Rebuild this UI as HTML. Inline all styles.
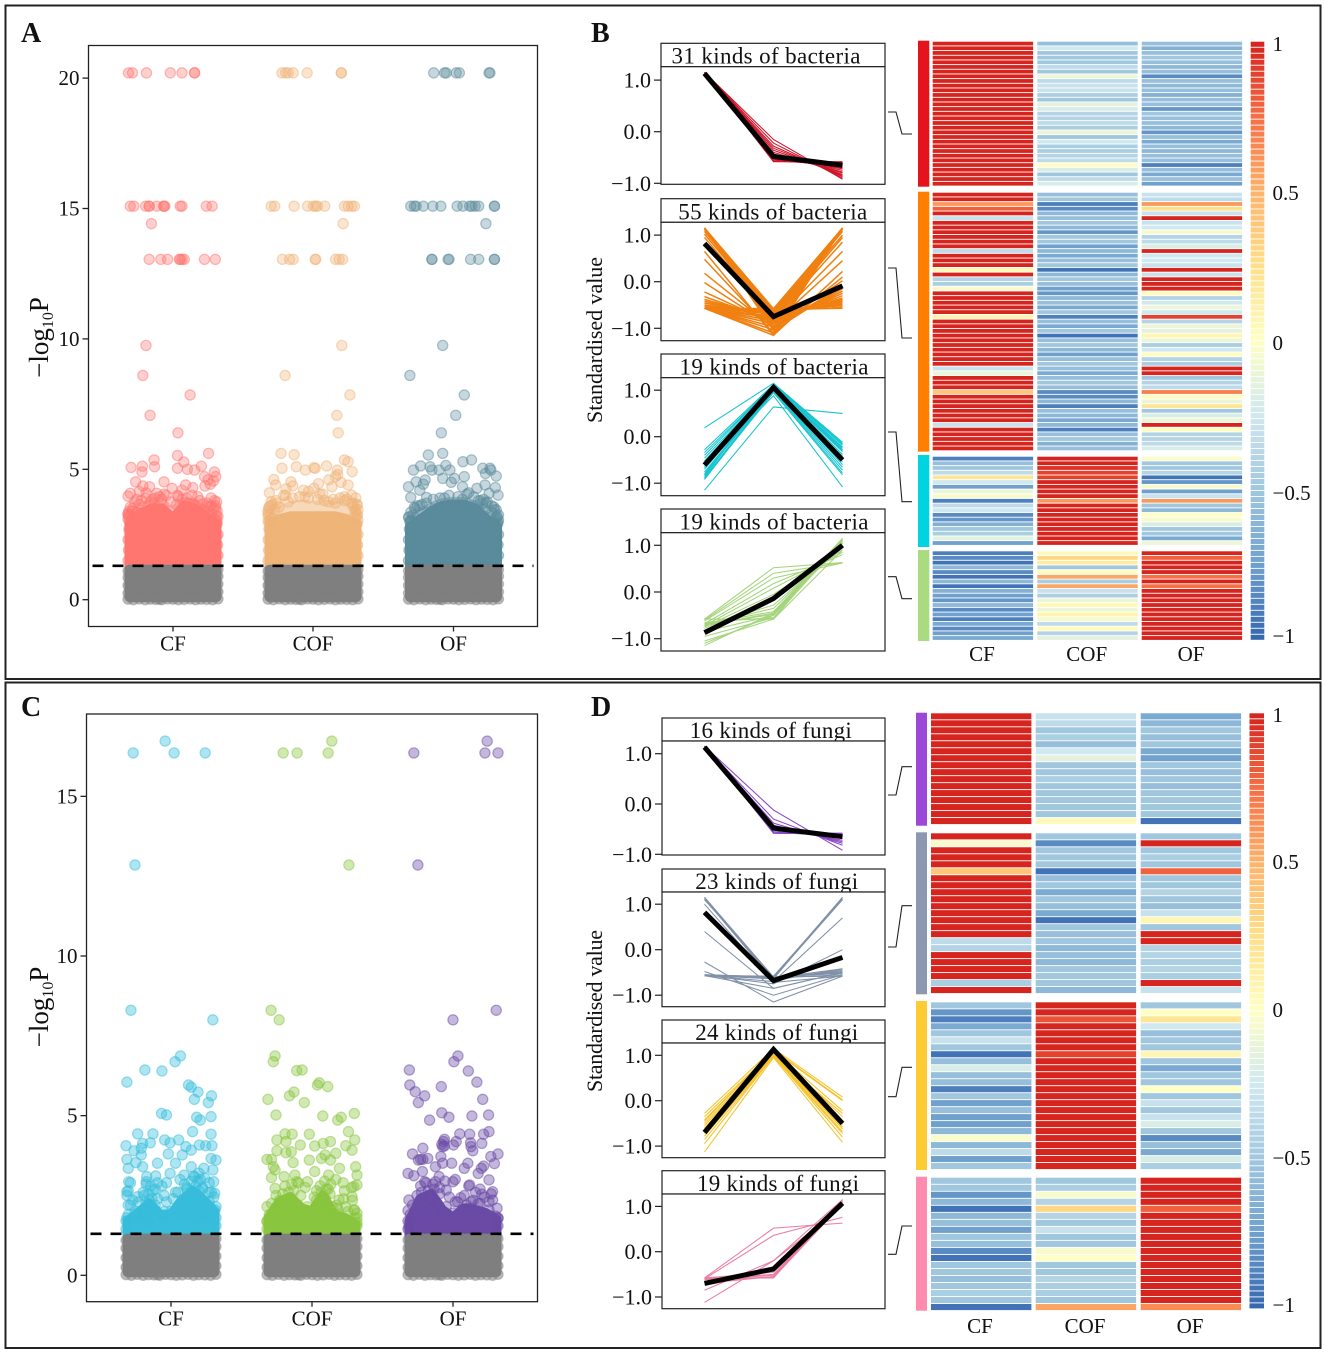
<!DOCTYPE html>
<html lang="en">
<head>
<meta charset="utf-8">
<title>Differential abundance and clustering of bacteria and fungi</title>
<style>
html,body{margin:0;padding:0;background:#fff;}
svg{display:block;font-family:"Liberation Serif",serif;fill:#111;}
</style>
</head>
<body>
<svg id="figure" xmlns="http://www.w3.org/2000/svg" width="1325" height="1354" viewBox="0 0 1325 1354">
  <rect x="0" y="0" width="1325" height="1354" fill="#fff"/>
  <rect x="5.5" y="5.5" width="1315" height="673.5" fill="none" stroke="#222" stroke-width="2"/>
  <rect x="5.5" y="682.5" width="1315" height="665.5" fill="none" stroke="#222" stroke-width="2"/>
  <text x="21" y="42" font-size="28" font-weight="bold">A</text>
  <text x="591" y="42" font-size="28" font-weight="bold">B</text>
  <text x="21" y="716" font-size="28" font-weight="bold">C</text>
  <text x="591" y="716" font-size="28" font-weight="bold">D</text>
  <text transform="translate(48,337.5) rotate(-90)" text-anchor="middle" font-size="27">−log<tspan font-size="16" dy="5">10</tspan><tspan dy="-5">P</tspan></text>
  <text transform="translate(48,1007) rotate(-90)" text-anchor="middle" font-size="27">−log<tspan font-size="16" dy="5">10</tspan><tspan dy="-5">P</tspan></text>
  <text transform="translate(602,340) rotate(-90)" text-anchor="middle" font-size="22" textLength="166">Standardised value</text>
  <text transform="translate(602,1011) rotate(-90)" text-anchor="middle" font-size="22" textLength="162">Standardised value</text>
</svg>
<script>
/* ---------- shared labels ---------- */
const categories = ['CF','COF','OF'];
const scatterTicksA = [0,5,10,15,20];
const scatterTicksC = [0,5,10,15];
const lineTicks = [1,0,-1];
const lineTickLabels = ['1.0','0.0','−1.0'];
const legendTicks = [1,0.5,0,-0.5,-1];
const legendTickLabels = ['1','0.5','0','−0.5','−1'];
const significanceThreshold = 1.3;

/* ---------- panel A points: −log10P value and horizontal jitter (−1…1) ---------- */
const aCfValues = [20.2,20.2,20.2,20.2,20.2,20.2,20.2,15.09,15.09,15.09,15.09,15.09,15.09,15.09,15.09,15.09,15.09,15.09,15.09,15.09,14.42,13.05,13.05,13.05,13.05,13.05,13.05,13.05,13.05,13.05,9.75,8.6,7.85,7.07,6.4,5.61,5.53,5.36,5.28,5.1,5.12,5.07,4.9,5.04,5.12,5.0,4.97,4.9,4.72,4.52,4.52,4.36,4.33,4.43,4.36,4.4,4.3,4.27,4.2,4.08,3.97,4.08,3.8,3.67,3.28,4.72,4.6,4.55,4.15,4.1,4.0,3.95,3.9,3.75,3.6,3.5,3.4,3.85,4.05];
const aCfJitter = [-.99,-.9,-.59,-.06,.2,.48,.48,-.95,-.87,-.61,-.53,-.53,-.36,-.21,-.2,-.18,.16,.2,.74,.87,-.48,-.53,-.27,-.12,.14,.16,.2,.25,.7,.94,-.6,-.67,.38,-.51,.11,.79,.1,-.42,.24,-.41,-.68,-.93,-.69,.1,.63,.32,.48,.92,.95,-.83,-.2,-.67,-.52,.83,.71,.28,.44,-.02,.2,-.95,-1,-.36,.92,.66,-1,.7,.78,.9,-.75,-.6,.1,.55,.85,.97,.75,.95,-.9,-.8,-.2];
const aCfFillValues = [3.9,3.85,3.95,4.0,3.8,3.75,3.9,3.7,3.85,3.95,3.7,3.6,3.85,3.75,3.65,3.55,3.5,3.4,3.35,3.3,3.25,3.2,3.15,3.1,3.6,3.5,3.4,3.3,3.2,3.1,3.0,3.45,3.55,3.7,3.8,3.6,3.9,4.0,3.75,3.65];
const aCfFillJitter = [-.6,-.45,-.3,-.15,-.7,-.85,.3,.35,.2,.12,.45,.5,-.25,-.5,-.75,-.95,-.9,-.98,-.8,-1,-.95,-.99,-.9,-1,.95,.9,.98,.85,1,.95,.98,.7,.8,.75,.6,.85,-.4,.42,-.05,.08];
const aCofValues = [20.2,20.2,20.2,20.2,20.2,20.2,20.2,15.09,15.09,15.09,15.09,15.09,15.09,15.09,15.09,15.09,15.09,15.09,15.09,14.42,13.05,13.05,13.05,13.05,13.05,13.05,13.05,13.05,9.75,8.6,7.85,7.07,6.4,5.61,5.56,5.36,5.29,5.04,5.1,5.06,5.13,4.97,4.97,4.91,4.61,4.4,4.52,4.36,4.72,4.4,4.33,4.1,4.2,4.27,4.01,4.0,3.63,3.76,5.04,4.8,4.6,4.5,4.25,4.15,4.05,3.95,3.9,3.8,3.7,3.55,3.45,3.3,4.45];
const aCofJitter = [-.69,-.61,-.55,-.44,-.13,.63,.63,-.93,-.85,-.42,-.12,.01,.06,.1,.26,.7,.78,.86,.92,.67,-.68,-.52,-.44,.05,.06,.5,.58,.66,.64,-.62,.82,.53,.56,-.71,-.42,.7,.78,-.69,-.37,.02,.3,-.17,.54,.87,-.87,-.83,-.49,-.45,.5,.78,.42,-.97,-.21,.02,.86,-.61,.98,-.93,.05,.55,.35,.62,-.6,-.1,.22,.7,.95,-.82,.9,-.98,.95,-1,.12];
const aCofFillValues = [4.0,3.95,3.9,3.85,3.8,3.85,3.9,3.75,3.7,3.65,3.8,3.7,3.6,3.55,3.5,3.45,3.4,3.3,3.2,3.1,3.0,3.65,3.55,3.45,3.35,3.25,3.15,3.05,3.9,3.75,4.05,3.95,3.85,3.7];
const aCofFillJitter = [-.65,-.3,-.1,.1,.25,.45,.6,-.55,-.8,-.9,.7,.85,-.95,-.75,-.98,-.85,-1,-.95,-.99,-.9,-1,.98,.9,1,.95,.99,.9,1,-.45,.35,.15,-.18,.75,.5];
const aOfValues = [20.2,20.2,20.2,20.2,20.2,20.2,20.2,15.09,15.09,15.09,15.09,15.09,15.09,15.09,15.09,15.09,15.09,15.09,15.09,15.09,15.09,14.42,13.05,13.05,13.05,13.05,13.05,13.05,13.05,13.05,9.75,8.6,7.85,7.07,6.4,5.55,5.61,5.29,5.36,5.13,5.1,5.15,4.97,5.04,5.04,4.97,4.97,4.97,4.97,4.74,4.84,4.52,4.59,4.43,4.33,4.2,4.65,4.65,4.72,4.33,4.27,4.3,4.08,4.01,3.92,3.92,3.85,3.44,2.99,3.18,3.54,4.5,4.1,4.4,3.7,3.6];
const aOfJitter = [-.44,-.2,-.16,.06,.13,.79,.81,-.95,-.87,-.83,-.67,-.46,-.28,.08,.21,.36,.41,.48,.56,.91,.91,.72,-.48,-.48,-.12,-.1,.38,.56,.91,.91,-.24,-.97,.24,.05,-.27,-.56,-.24,.21,.4,-.73,-.52,-.17,-.89,.65,.81,-.48,-.32,-.08,.83,.95,.71,-.83,-.63,-.67,-1,-.75,-.24,.02,.24,.2,.52,.93,.79,.99,-.95,-.6,.67,.91,.99,-.99,-.87,-.05,.34,.7,.72,-.8];
const aOfFillValues = [4.0,3.95,4.05,3.9,3.95,3.85,3.8,3.7,3.6,3.5,3.45,3.35,3.25,3.15,3.05,3.75,3.6,3.55,3.45,3.35,3.25,3.15,3.05,3.9,3.85,3.65,3.7,3.8];
const aOfFillJitter = [-.1,.1,.3,-.3,.45,-.45,.55,-.6,-.75,-.85,.7,-.95,-.9,-1,-.95,.75,.85,.9,.95,.85,1,.95,1,-.2,.2,-.7,.65,.6];

/* ---------- dense cloud outline (panel A) ---------- */
const cloudJitter = [-1,-.75,-.5,-.25,0,.25,.5,.75,1];
const aCfSoftTop = [3.0,3.5,3.7,3.7,3.3,3.75,3.65,3.35,3.0];
const aCfSolidTop = [2.9,3.3,3.5,3.5,3.1,3.6,3.5,3.2,2.9];
const aCofSoftTop = [3.1,3.4,3.6,3.65,3.6,3.65,3.6,3.5,3.2];
const aCofSolidTop = [2.9,3.1,3.2,3.2,3.2,3.2,3.2,3.1,2.9];
const aOfSoftTop = [3.0,3.3,3.55,3.7,3.75,3.75,3.6,3.2,2.95];
const aOfSolidTop = [2.8,3.1,3.4,3.6,3.65,3.65,3.5,3.1,2.8];
/* points along the left and right cloud edges */
const aEdgeValues = [1.5,1.9,2.3,2.7,3.0,1.7,2.1,2.5,2.9,3.2];
const aEdgeJitter = [-1,-.99,-1,-.98,-.97,1,.99,1,.98,.97];

/* ---------- panel C points ---------- */
const cCfValues = [16.36,16.73,16.36,16.36,12.85,8.3,8.0,6.87,6.69,6.43,6.4,6.05,5.96,5.89,5.74,5.62,5.51,5.41,5.07,5.02,4.97,4.95,4.86,4.5,4.43,4.43,4.42,4.06,4.13,4.15,4.24,4.15,4.24,3.98,4.03,4.08,4.06,4.06,3.9,3.77,3.63,3.53,3.8,3.77,3.92,3.66,3.61,3.35,3.4,3.51,3.51,3.4,3.3,3.35,3.09,3.11,3.19,3.14,3.09,2.93,2.93,2.93,2.62,2.57,2.46,2.41,2.9,2.85,2.8,2.75,2.7,2.65,2.6,2.55,2.5,2.45,2.4,2.35,2.3,2.25,2.2,2.15,2.1,2.05,2.0,1.95,1.9,1.85,1.8,1.75,1.7,3.0,2.95,2.9,2.7,2.6];
const cCfJitter = [-.84,-.13,.07,.76,-.8,-.89,.93,.21,.09,-.58,-.2,-.98,.39,.45,.6,.9,.52,.83,-.21,-.1,.89,.57,.65,.48,-.74,-.4,.89,-1,-.63,-.46,-.14,-.02,.17,-.66,.33,.63,.77,.91,-.82,-.66,-.98,-.78,-.06,.25,.45,.89,1,-.95,-.63,-.3,.1,.45,.93,.73,-.54,-.34,-.02,.29,.53,-.94,-.55,.95,-.98,.97,-.74,-.42,-.9,-.55,-.2,.35,.7,-.95,.1,.55,-.6,.95,-.3,-.85,.25,.75,-.95,-.45,.45,.98,-.15,-.75,.3,.85,-.98,.6,-.5,.2,.6,-.1,-.35,.85];
const cCfFillValues = [1.9,2.0,1.8,2.05,1.85,2.0,1.9,2.1,1.95,2.05,1.85,2.2,2.3,2.25,2.35,2.2,2.3,2.4,2.25,2.35,2.2,2.3,2.15,2.5,2.6,2.55,2.65,2.5,2.6,2.7,2.55,2.65,2.75,2.6,2.8,2.9,2.85,2.95,2.8,3.0,3.05,2.9,3.1,3.2];
const cCfFillJitter = [-.95,-.8,-.6,-.4,-.2,0,.2,.4,.6,.8,.95,-.9,-.72,-.55,-.48,-.35,-.1,.05,.3,.5,.65,.85,1,-.98,-.62,-.5,-.4,-.15,.15,.35,.55,.62,.7,.9,-.45,-.3,.3,.45,.55,.65,.75,.85,.5,.62];
const cCofValues = [16.36,16.36,16.36,16.73,12.85,8.3,8.0,6.87,6.69,6.41,6.43,6.03,5.96,5.91,5.74,5.62,5.51,5.41,5.02,4.99,4.95,4.86,5.07,4.5,4.43,4.42,4.42,4.24,4.24,4.19,4.19,4.13,4.08,4.05,4.06,3.92,3.9,3.84,3.87,3.82,3.77,3.63,3.63,3.66,3.61,3.53,3.61,3.4,3.35,3.4,3.25,3.3,3.14,3.06,3.14,3.09,3.14,2.93,2.93,2.9,2.78,2.72,3.0,2.83,2.46,2.15,1.94,1.65,2.36,2.1,2.04,1.68,2.15];
const cCofJitter = [-.64,-.33,.36,.44,.82,-.91,-.73,-.82,-.86,-.34,-.22,.16,.12,.35,-.4,-.5,-.98,-.17,-.8,.24,.65,.57,.94,.81,-.6,-.44,-.06,.95,-.78,-.58,.41,.25,-.26,.06,.75,.89,-.78,-.58,-.46,.53,.29,-1,-.9,.21,.41,-.42,-.06,-.86,.61,.97,.06,-.82,1,-.9,-.38,-.62,.37,-.1,-.34,.69,.93,-.82,.53,1,.89,-1,1,1,.6,.57,.93,-1,.45];
const cCofFillValues = [1.9,2.0,1.85,2.05,1.9,2.0,1.95,2.1,1.9,2.0,1.8,2.25,2.35,2.3,2.4,2.2,2.15,2.35,2.3,2.4,2.2,2.15,2.05,2.5,2.55,2.6,2.65,2.5,2.45,2.6,2.7,2.55,2.65,2.4,2.35,2.8,2.85,2.9,2.75,2.8,2.95,2.7,2.85,2.65,2.75];
const cCofFillJitter = [-.95,-.8,-.6,-.4,-.2,0,.2,.4,.6,.8,.95,-.9,-.72,-.55,-.45,-.3,-.1,.1,.22,.3,.55,.75,.95,-.8,-.65,-.52,-.4,-.25,.05,.2,.32,.4,.1,.7,.9,-.6,-.45,-.3,-.15,.18,.28,.36,.42,.72,.88];
const cOfValues = [16.36,16.36,16.73,16.36,12.85,8.3,8.0,6.87,6.69,6.43,6.4,6.05,5.96,5.91,5.75,5.62,5.51,5.41,5.09,4.95,4.99,5.02,4.86,4.5,4.42,4.43,4.42,4.19,4.26,4.19,4.1,4.05,4.03,4.13,4.15,4.03,3.9,4.08,3.98,3.8,3.8,3.72,3.63,3.63,3.61,3.66,3.72,3.5,3.51,3.51,3.42,3.35,3.4,3.35,3.51,3.25,3.19,3.12,3.09,3.19,2.99,2.93,2.93,2.83,2.93,2.62,2.36,2.36,2.03,1.78,1.52,2.67,2.54,2.43,2.3,2.25,2.3];
const cOfJitter = [-.87,.71,.76,1,-.78,.96,0,.11,.02,-.97,.34,.53,-.96,-.26,-.84,-.63,.66,-.77,-.25,-.09,.42,.79,-.52,.8,.68,.15,.37,.07,-.19,-.21,-.25,-.19,-.23,.64,.39,.4,.44,.01,-.67,-.9,1,-.27,-.72,-.67,-.77,-.56,.84,.92,-.03,.33,.68,.63,-.39,.25,-.23,-.68,-1,-.87,-.31,.56,.8,0,-.63,.37,-.39,.88,-.98,.88,-1,1,-.98,-.15,.64,.17,.4,.56,.05];
const cOfFillValues = [1.9,1.95,1.85,2.0,1.9,1.95,2.05,2.1,1.95,2.05,1.85,2.2,2.3,2.25,2.4,2.25,2.15,2.3,2.2,2.35,2.25,2.3,2.1,2.5,2.6,2.65,2.7,2.55,2.45,2.5,2.6,2.45,2.55,2.8,2.9,2.85,2.75,2.95,3.0,2.8,2.7];
const cOfFillJitter = [-.95,-.8,-.6,-.4,-.2,0,.2,.4,.6,.8,.95,-.9,-.75,-.6,-.5,-.35,-.15,.1,.3,.45,.6,.8,.98,-.8,-.7,-.55,-.42,-.3,-.08,.25,.5,.7,.85,-.72,-.6,-.45,-.3,-.18,.05,.35,.6];

/* ---------- dense cloud outline (panel C) ---------- */
const cCfSolidTop = [1.7,1.95,2.25,1.9,1.9,2.35,2.65,2.35,2.0];
const cCofSolidTop = [1.8,2.3,2.45,2.1,2.0,2.5,1.9,1.8,1.6];
const cOfSolidTop = [1.7,2.4,2.55,2.05,1.8,2.1,2.05,1.95,1.75];
const cEdgeValues = [1.45,1.7,1.55,1.8];
const cEdgeJitter = [-1,-1,1,1];

/* ---------- non-significant grey points at the cloud edges ---------- */
const greyEdgeValues = [.02,0,.03,0,.02,.01,0,.03,.02,0,.01,.03,0,.02,.01,0,.03,.02,.25,.55,.85,1.1,.3,.6,.9,1.15];
const greyEdgeJitter = [-1,-.88,-.75,-.62,-.5,-.38,-.25,-.12,0,.12,.25,.38,.5,.62,.75,.88,1,-.3,-1,-1,-1,-1,1,1,1,1];

/* ---------- panel B cluster profiles (left = CF, mid = COF, right = OF) ---------- */
const b1Left = [1.15,1.15,1.15,1.15,1.15,1.15,1.15,1.15,1.15,1.15,1.15,1.15,1.15,1.15,1.15,1.15];
const b1Mid = [-.15,-.22,-.28,-.32,-.36,-.4,-.43,-.46,-.49,-.52,-.54,-.56,-.57,-.57,-.58,-.58];
const b1Right = [-.92,-.9,-.87,-.85,-.83,-.8,-.78,-.75,-.72,-.7,-.67,-.65,-.62,-.6,-.59,-.58];
const b1Centroid = [1.13,-.48,-.65];
const b2Left = [1.15,1.15,1.15,1.15,1.15,1.15,1.15,1.15,1.15,1.15,1.15,1.15,1.12,1.08,1.02,.95,.65,.48,.18,-.02,-.22,-.32,-.38,-.42,-.46,-.5,-.52,-.55,-.56,-.57,-.57,-.57,-.57,-.57,-.57,-.57,-.57,-.57,-.57,-.57];
const b2Mid = [-.6,-.65,-.7,-.75,-.8,-.85,-.9,-.95,-1,-1.05,-.62,-.58,-.63,-.7,-.75,-.8,-1.15,-1.1,-1,-.98,-.9,-.85,-.8,-.78,-.72,-.7,-.65,-.62,-.6,-.58,-.64,-.68,-.74,-.78,-.84,-.9,-.97,-1.03,-1.1,-1.15];
const b2Right = [-.57,-.5,-.45,-.4,-.35,-.3,-.25,-.2,-.15,-.1,-.55,-.52,-.48,-.42,-.38,-.12,.22,.1,.02,-.1,.45,.65,.85,.95,1,1.08,1.12,1.15,1.15,1.15,1.15,1.15,1.15,1.15,1.15,1.15,1.15,1.15,1.15,1.15];
const b2Centroid = [.82,-.75,-.09];
const b3Left = [.19,-.28,-.34,-.4,-.46,-.52,-.58,-.64,-.7,-.76,-.82,-.88,-.92,-.9,-.85,-.6,-1.15,-.8,-.66];
const b3Mid = [1.15,1.12,1.1,1.1,1.08,1.08,1.06,1.05,1.05,1.03,1.02,1,.98,.95,1.1,.88,.64,1.12,1.14];
const b3Right = [-.12,-.18,-.22,-.28,-.32,-.38,-.42,-.48,-.54,-.6,-.66,-.72,-.78,-.82,-.25,-1.08,.5,-.3,-.15];
const b3Centroid = [-.61,1.06,-.5];
const b4Left = [-.58,-.6,-.62,-.68,-.72,-.75,-.78,-.72,-.7,-.68,-.72,-.7,-.85,-.95,-1.05,-1.15,-.65,-.58,-1.1];
const b4Mid = [.52,.4,.3,.18,.08,-.05,-.15,-.28,-.35,-.42,-.45,-.48,-.5,-.55,-.58,-.45,-.55,-.58,-.5];
const b4Right = [.63,.63,.62,.8,.85,.9,.95,1,1.05,1.1,1.15,1.12,1.1,1.08,1.15,1,1.12,.9,1.05];
const b4Centroid = [-.87,-.14,1];

/* ---------- panel D cluster profiles ---------- */
const d1Left = [1.15,1.15,1.15,1.15,1.15,1.15,1.15,1.15,1.15,1.15];
const d1Mid = [-.12,-.3,-.38,-.42,-.48,-.52,-.55,-.57,-.58,-.58];
const d1Right = [-.92,-.82,-.78,-.75,-.72,-.68,-.65,-.62,-.6,-.58];
const d1Centroid = [1.13,-.48,-.65];
const d2Left = [1.15,1.15,1.15,1.12,1.1,1,.4,-.27,-.48,-.57,-.55,-.57,-.57,-.57,-.57,-.56,-.57,-.55,-.56];
const d2Mid = [-.62,-.6,-.65,-.68,-.6,-.72,-.85,-1.15,-1,-.85,-.6,-.58,-.62,-.64,-.7,-.75,-.62,-.6,-.6];
const d2Right = [-.55,-.5,-.45,-.42,-.58,-.58,-.5,-.58,-.55,-.5,1.15,1.12,1.1,1.15,.7,0,-.42,-.48,-.52];
const d2Centroid = [.82,-.68,-.17];
const d3Left = [-.28,-.35,-.42,-.5,-.55,-.62,-.68,-.72,-.78,-.85,-.95,-1.13,-.45,-.6];
const d3Mid = [1.15,1.1,1.1,1.08,1.05,1.05,1.02,1.02,1,.98,.98,.95,1.12,1];
const d3Right = [.08,0,-.22,-.35,-.45,-.52,-.58,-.62,-.68,-.72,-.8,-.92,.02,-.28];
const d3Centroid = [-.7,1.13,-.5];
const d4Left = [-.58,-.6,-.85,-1.12,-.58,-.6,-.62,-.65,-.58,-.6,-.7];
const d4Mid = [.52,.36,-.2,-.2,-.45,-.5,-.52,-.55,-.58,-.57,-.55];
const d4Right = [.63,.76,1.15,1,1.15,1.1,1.12,1.15,1.1,1.05,1.1];
const d4Centroid = [-.7,-.38,1.07];

/* ---------- panel B heatmap values ---------- */
const b1HeatCF = [1,1,1,1,1,1,1,1,1,1,1,1,1,1,1,1,1,1,1,1,1,1,1,1,1,1,1,1,1,1,1];
const b1HeatCOF = [-.55,-.25,-.5,-.5,-.5,-.35,-.5,-.1,-.35,-.3,-.3,-.45,-.5,-.15,-.2,-.4,-.4,-.35,-.45,-.1,-.5,-.25,-.45,-.45,-.4,-.35,.02,-.2,-.5,-.35,-.2];
const b1HeatOF = [-.55,-.65,-.55,-.5,-.55,-.6,-.55,-.85,-.55,-.6,-.55,-.65,-.55,-.55,-.8,-.5,-.55,-.55,-.6,-.8,-.55,-.7,-.55,-.6,-.55,-.55,-.9,-.55,-.7,-.55,-.75];
const b2HeatCF = [1,1,.6,.8,1,-.3,1,1,1,1,1,1,-.35,1,1,1,.05,1,-.4,-.45,-.05,1,1,1,1,1,.1,1,1,1,1,1,1,1,1,1,1,-.3,-.1,1,1,1,.4,1,1,1,1,1,1,-.3,1,1,1,1,1];
const b2HeatCOF = [-.55,-.5,-.9,-.85,-.6,-.55,-.5,-.6,-.8,-.5,-.5,-.75,-.6,-.7,-.55,-.5,-.95,-.6,-.5,-.55,-.75,-.8,-.6,-.55,-.7,-.5,-.9,-.55,-.7,-.5,-.95,-.55,-.5,-.6,-.75,-.55,-.5,-.55,-.7,-.55,-.5,-.55,-.85,-.85,-.6,-.9,-.55,-.6,-.7,-.6,-.9,-.55,-.5,-.65,-.55];
const b2HeatOF = [-.3,-.35,.6,.25,-.3,1,-.3,-.25,-.05,-.4,-.35,-.2,1,-.25,-.25,-.3,1,-.3,1,1,1,.03,-.4,-.25,-.1,-.25,.9,-.4,-.1,-.15,.08,-.1,-.45,-.25,.02,-.4,-.45,1,1,-.5,-.4,-.35,.7,.03,-.1,.2,-.5,-.2,-.1,1,.02,-.4,-.4,-.35,-.2];
const b3HeatCF = [-.9,-.55,-.5,-.35,.2,-.25,-.75,-.1,-.05,-.9,-.35,-.25,-.85,-.8,-.65,-.5,-.45,-.15,-.75];
const b3HeatCOF = [1,1,.95,.9,.9,1,1,1,1,.6,1,1,1,1,1,1,1,1,1];
const b3HeatOF = [-.02,-.5,-.5,-.4,-.95,-.8,-.05,-.75,-.3,.6,-.5,-.6,.02,-.05,-.2,-.5,-.5,-.7,-.1];
const b4HeatCF = [-.9,-.85,-.95,-.6,-.85,-.95,-.6,-.95,-.65,-.75,-.8,-.6,-.85,-.75,-.9,-.7,-.85,-.75,-.7];
const b4HeatCOF = [.05,.3,.15,-.5,.02,.55,-.45,.55,-.3,-.45,-.1,.05,-.1,.1,-.05,-.35,.03,-.4,-.15];
const b4HeatOF = [1,.8,1,1,1,.75,1,.75,1,1,1,1,1,1,1,1,1,1,1];

/* ---------- panel D heatmap values ---------- */
const d1HeatCF = [1,1,1,1,1,1,1,1,1,1,1,1,1,1,1,1];
const d1HeatCOF = [-.3,-.35,-.5,-.45,-.55,-.25,-.15,-.5,-.5,-.45,-.5,-.5,-.5,-.5,-.5,.03];
const d1HeatOF = [-.7,-.6,-.5,-.55,-.5,-.7,-.75,-.5,-.55,-.5,-.55,-.5,-.5,-.5,-.5,-.95];
const d2HeatCF = [1,-.05,1,1,1,.4,1,1,1,1,1,1,1,1,1,-.35,-.4,1,1,1,1,-.45,1];
const d2HeatCOF = [-.5,-.85,-.5,-.5,-.5,-.95,-.55,-.5,-.7,-.5,-.55,-.7,-.95,-.5,-.55,-.5,-.6,-.55,-.6,-.5,-.5,-.5,-.6];
const d2HeatOF = [-.5,1,-.5,-.45,-.5,.8,-.5,-.5,-.4,-.5,-.55,-.3,.07,-.5,1,1,-.4,-.4,-.45,-.4,-.45,1,-.3];
const d3HeatCF = [-.5,-.8,-.9,-.7,-.5,-.3,-.5,-.95,-.55,-.2,-.55,-.55,-.9,-.5,-.75,-.55,-.75,-.75,-.6,-.03,-.6,-.35,-.75,-.5];
const d3HeatCOF = [1,1,.85,1,1,1,1,.9,1,1,1,1,1,1,1,1,1,1,1,1,1,1,1,1];
const d3HeatOF = [-.5,.0,.2,-.25,-.55,-.5,-.5,.07,-.5,-.7,-.5,-.5,.0,-.5,-.3,-.5,-.3,-.2,-.5,-.85,-.55,-.7,-.2,-.45];
const d4HeatCF = [-.5,-.5,-.8,-.6,-.95,-.6,-.55,-.75,-.5,-.55,-.85,-.95,-.5,-.5,-.55,-.5,-.45,-.5,-.95];
const d4HeatCOF = [-.5,-.45,-.05,-.4,.3,-.4,-.5,-.3,-.5,-.5,-.05,.0,-.5,-.5,-.4,-.45,-.45,-.5,.55];
const d4HeatOF = [1,1,1,1,.8,1,1,1,1,1,1,1,1,1,1,1,1,1,.65];

/* ---------- drawing ---------- */
const svg = document.getElementById('figure');
const NS = 'http://www.w3.org/2000/svg';
function mk(tag, attrs, parent){
  const el = document.createElementNS(NS, tag);
  for (const k in attrs) el.setAttribute(k, attrs[k]);
  (parent || svg).appendChild(el);
  return el;
}
function textEl(parent, x, y, str, size, anchor){
  const t = mk('text', {x:x, y:y, 'font-size':size, 'text-anchor':anchor}, parent);
  t.textContent = str;
  return t;
}
const colorStops = [[-1,[54,104,176]],[-.75,[112,161,205]],[-.5,[161,199,223]],[-.25,[208,232,240]],[0,[255,255,196]],[.25,[254,224,139]],[.5,[253,180,108]],[.75,[246,112,70]],[1,[214,36,30]]];
function heatColor(v){
  const c = Math.max(-1, Math.min(1, v));
  for (let i = 1; i < colorStops.length; i++){
    if (c <= colorStops[i][0]){
      const a = colorStops[i-1], b = colorStops[i], f = (c-a[0])/(b[0]-a[0]);
      return 'rgb(' + a[1].map((n,k)=>Math.round(n+(b[1][k]-n)*f)).join(',') + ')';
    }
  }
  return 'rgb(214,36,30)';
}

function drawCloud(g, xOf, yOf, tops, bottom, color, radius, opacity){
  const pts = cloudJitter.map((j,i)=>xOf(j)+','+yOf(tops[i]));
  pts.push(xOf(1)+','+yOf(bottom), xOf(-1)+','+yOf(bottom));
  const p = mk('polygon', {points:pts.join(' '), fill:color, stroke:color, 'stroke-width':radius*2, 'stroke-linejoin':'round', opacity:opacity}, g);
  
  
}
function drawPoints(g, xOf, yOf, values, jitter, color, fillOpacity, strokeOpacity){
  const n = Math.min(values.length, jitter.length);
  for (let i = 0; i < n; i++){
    const c = mk('circle', {cx:xOf(jitter[i]), cy:yOf(values[i]), r:5.1, fill:color, 'fill-opacity':fillOpacity, stroke:color, 'stroke-opacity':strokeOpacity, 'stroke-width':1.2}, g);
    
    
  }
}

function drawScatter(name, box, centers, yTicks, edgeValues, edgeJitter, groups){
  const g = mk('g', {});
  
  
  const yScale = v => box.y0 - v*box.unit;
  const frame = mk('rect', {x:box.left, y:box.top, width:box.right-box.left, height:box.bottom-box.top, fill:'#fff', stroke:'#222', 'stroke-width':1.3}, g);
  
  
  yTicks.forEach(v=>{
    const tk = mk('line', {x1:box.left-6, x2:box.left, y1:yScale(v), y2:yScale(v), stroke:'#222', 'stroke-width':1.3}, g);
    
    
    const lb = textEl(g, box.left-9, yScale(v)+7, String(v), 21, 'end');
    
    
  });
  groups.forEach((grp,gi)=>{
    const cx = centers[gi];
    const xOf = j => cx + j*45;
    const xBody = j => cx + j*43.5;
    const tk = mk('line', {x1:cx, x2:cx, y1:box.bottom, y2:box.bottom+5, stroke:'#222', 'stroke-width':1.3}, g);
    
    
    const lb = textEl(g, cx, box.bottom+24, categories[gi], 21, 'middle');
    
    
    if (grp.softTop) drawCloud(g, xBody, yScale, grp.softTop, 1.2, grp.color, 5, .5);
    drawCloud(g, xBody, yScale, grp.solidTop, 1.2, grp.color, 5, 1);
    drawPoints(g, xOf, yScale, grp.values, grp.jitter, grp.color, box.alpha, .5);
    drawPoints(g, xOf, yScale, grp.fillValues, grp.fillJitter, grp.color, box.alpha, .5);
    drawPoints(g, xOf, yScale, edgeValues, edgeJitter, grp.color, .45, .5);
    drawCloud(g, xBody, yScale, cloudJitter.map(()=>1.15), .1, '#7f7f7f', 5, 1);
    drawPoints(g, xOf, yScale, greyEdgeValues, greyEdgeJitter, '#7f7f7f', .55, .4);
  });
  const dash = mk('line', {x1:box.left+4, x2:box.right-4, y1:yScale(significanceThreshold), y2:yScale(significanceThreshold), stroke:'#000', 'stroke-width':2.6, 'stroke-dasharray':'11 9'}, g);
  
  
}

function drawLinePanel(name, box, titleStr, titleX, titleW, color, left, mid, right, centroid, link){
  const g = mk('g', {});
  
  
  const yScale = v => box.y0 - v*box.unit;
  const xPos = [704.5,773.5,842.5];
  const strip = mk('rect', {x:box.left, y:box.top, width:box.right-box.left, height:box.div-box.top, fill:'#fff', stroke:'#222', 'stroke-width':1.2}, g);
  
  
  const title = mk('text', {x:titleX, y:box.div-3, 'font-size':23, 'text-anchor':'middle', textLength:titleW}, g);
  title.textContent = titleStr;
  
  
  const body = mk('rect', {x:box.left, y:box.div, width:box.right-box.left, height:box.bottom-box.div, fill:'#fff', stroke:'#222', 'stroke-width':1.2}, g);
  
  
  lineTicks.forEach((v,i)=>{
    const tk = mk('line', {x1:box.left-7, x2:box.left, y1:yScale(v), y2:yScale(v), stroke:'#222', 'stroke-width':1.2}, g);
    
    
    const lb = textEl(g, box.left-10, yScale(v)+7.5, lineTickLabels[i], 22, 'end');
    
    
  });
  for (let i = 0; i < left.length; i++){
    const pl = mk('polyline', {points:[left[i],mid[i],right[i]].map((v,k)=>xPos[k]+','+yScale(v)).join(' '), fill:'none', stroke:color, 'stroke-width':box.lw||1.05}, g);
    
    
  }
  const ct = mk('polyline', {points:centroid.map((v,k)=>xPos[k]+','+yScale(v)).join(' '), fill:'none', stroke:'#000', 'stroke-width':5, 'stroke-linejoin':'miter'}, g);
  
  
  const c = mk('polyline', {points:'888,'+link[0]+' 896,'+link[0]+' 902,'+link[1]+' 912,'+link[1], fill:'none', stroke:'#222', 'stroke-width':1.1}, g);
  
  
}

function drawHeat(name, top, bottom, xs, w, cols, sideX, sideW, sideTop, sideBottom, sideColor){
  const g = mk('g', {});
  
  
  const bar = mk('rect', {x:sideX, y:sideTop, width:sideW, height:sideBottom-sideTop, fill:sideColor}, g);
  
  
  cols.forEach((vals,ci)=>{
    const h = (bottom-top)/vals.length;
    vals.forEach((v,i)=>{
      const r = mk('rect', {x:xs[ci], y:top+i*h, width:w, height:h-.9, fill:heatColor(v)}, g);
      
      
    });
  });
}

function drawHeatAxis(name, xs, labelY, barX, barW, barTop, barBottom, tickYs){
  const g = mk('g', {});
  
  
  xs.forEach((x,i)=>{
    const t = textEl(g, x, labelY, categories[i], 21, 'middle');
    
    
  });
  const segs = 100, h = (barBottom-barTop)/segs;
  for (let i = 0; i < segs; i++){
    const s = mk('rect', {x:barX, y:barTop+i*h, width:barW, height:h-.9, fill:heatColor(1-2*i/(segs-1))}, g);
    
    
  }
  legendTicks.forEach((v,i)=>{
    const t = textEl(g, 1272.5, tickYs(v)+7, legendTickLabels[i], 21, 'start');
    
    
  });
}

drawScatter('manhattan-plot-bacteria', {left:88.5,right:537.5,top:45.5,bottom:626.5,y0:599.7,unit:26.08,alpha:.34}, [173,313,453.5], scatterTicksA, aEdgeValues, aEdgeJitter, [
  {color:'#ff7670', values:aCfValues, jitter:aCfJitter, fillValues:aCfFillValues, fillJitter:aCfFillJitter, softTop:aCfSoftTop, solidTop:aCfSolidTop},
  {color:'#efb478', values:aCofValues, jitter:aCofJitter, fillValues:aCofFillValues, fillJitter:aCofFillJitter, softTop:aCofSoftTop, solidTop:aCofSolidTop},
  {color:'#5a8b9c', values:aOfValues, jitter:aOfJitter, fillValues:aOfFillValues, fillJitter:aOfFillJitter, softTop:aOfSoftTop, solidTop:aOfSolidTop}
]);
drawScatter('manhattan-plot-fungi', {left:86.5,right:537.5,top:714,bottom:1301.7,y0:1275.3,unit:31.93,alpha:.4}, [171,312,453], scatterTicksC, cEdgeValues, cEdgeJitter, [
  {color:'#38bddb', values:cCfValues, jitter:cCfJitter, fillValues:cCfFillValues, fillJitter:cCfFillJitter, solidTop:cCfSolidTop},
  {color:'#8ac53f', values:cCofValues, jitter:cCofJitter, fillValues:cCofFillValues, fillJitter:cCofFillJitter, solidTop:cCofSolidTop},
  {color:'#6a4aa5', values:cOfValues, jitter:cOfJitter, fillValues:cOfFillValues, fillJitter:cOfFillJitter, solidTop:cOfSolidTop}
]);

drawLinePanel('bacteria-cluster-1', {left:661,right:885,top:43.3,div:66.7,bottom:184.3,y0:131.7,unit:51.6}, '31 kinds of bacteria', 766, 189, '#d0142a', b1Left, b1Mid, b1Right, b1Centroid, [112,134]);
drawLinePanel('bacteria-cluster-2', {left:661,right:885,top:198.7,div:222.3,bottom:340.7,y0:281.7,unit:46.6,lw:1.5}, '55 kinds of bacteria', 772.7, 189, '#f08010', b2Left, b2Mid, b2Right, b2Centroid, [268,338]);
drawLinePanel('bacteria-cluster-3', {left:661,right:885,top:354,div:377.7,bottom:495.7,y0:436.7,unit:46.5}, '19 kinds of bacteria', 774, 189, '#14c4d0', b3Left, b3Mid, b3Right, b3Centroid, [432,501.7]);
drawLinePanel('bacteria-cluster-4', {left:661,right:885,top:509,div:532.7,bottom:651,y0:592,unit:46.7}, '19 kinds of bacteria', 774, 189, '#a4d47c', b4Left, b4Mid, b4Right, b4Centroid, [576.7,598.7]);
drawLinePanel('fungi-cluster-1', {left:662,right:885,top:718,div:741,bottom:855,y0:804,unit:50.3}, '16 kinds of fungi', 770.8, 162, '#8a44c8', d1Left, d1Mid, d1Right, d1Centroid, [795,766.7]);
drawLinePanel('fungi-cluster-2', {left:662,right:885,top:869,div:892,bottom:1006.7,y0:949.7,unit:45.5}, '23 kinds of fungi', 776.7, 163, '#8090a8', d2Left, d2Mid, d2Right, d2Centroid, [947,905.7]);
drawLinePanel('fungi-cluster-3', {left:662,right:885,top:1020,div:1043,bottom:1157.7,y0:1100.7,unit:45.4}, '24 kinds of fungi', 776.7, 163, '#f5c228', d3Left, d3Mid, d3Right, d3Centroid, [1096.7,1067.3]);
drawLinePanel('fungi-cluster-4', {left:662,right:885,top:1170.7,div:1194,bottom:1308.7,y0:1251.7,unit:45.3}, '19 kinds of fungi', 778, 162, '#ea7ca4', d4Left, d4Mid, d4Right, d4Centroid, [1254.3,1226]);

const bColX = [932.7,1037.3,1141.7];
drawHeat('bacteria-heatmap-cluster-1', 41.7, 186.5, bColX, 100.4, [b1HeatCF,b1HeatCOF,b1HeatOF], 918, 11.3, 40.7, 186.7, '#e5141c');
drawHeat('bacteria-heatmap-cluster-2', 192.7, 451.2, bColX, 100.4, [b2HeatCF,b2HeatCOF,b2HeatOF], 918, 11.3, 191.7, 451.7, '#ff8000');
drawHeat('bacteria-heatmap-cluster-3', 456.7, 545.8, bColX, 100.4, [b3HeatCF,b3HeatCOF,b3HeatOF], 918, 11.3, 455, 547, '#00d4e0');
drawHeat('bacteria-heatmap-cluster-4', 551.3, 640.8, bColX, 100.4, [b4HeatCF,b4HeatCOF,b4HeatOF], 918, 11.3, 550, 641, '#aadb80');
drawHeatAxis('bacteria-heatmap-axis', [982,1086.7,1191], 661, 1250.7, 13.6, 41.7, 640.7, v => v===1?44:v===.5?193:v===0?343:v===-.5?493:636);

const dColX = [931,1035.7,1140.7];
drawHeat('fungi-heatmap-cluster-1', 713.3, 825, dColX, 100.4, [d1HeatCF,d1HeatCOF,d1HeatOF], 916, 11, 712.7, 825.7, '#9b48d8');
drawHeat('fungi-heatmap-cluster-2', 833.3, 994, dColX, 100.4, [d2HeatCF,d2HeatCOF,d2HeatOF], 916, 11, 832.3, 994.3, '#8c98b0');
drawHeat('fungi-heatmap-cluster-3', 1002.3, 1170, dColX, 100.4, [d3HeatCF,d3HeatCOF,d3HeatOF], 916, 11, 1001, 1170, '#fdcc33');
drawHeat('fungi-heatmap-cluster-4', 1177.7, 1311, dColX, 100.4, [d4HeatCF,d4HeatCOF,d4HeatOF], 916, 11, 1176.7, 1310.7, '#ff8cb0');
drawHeatAxis('fungi-heatmap-axis', [980,1085,1190], 1333, 1249.5, 14.5, 713.3, 1309.3, v => v===1?715:v===.5?862:v===0?1010:v===-.5?1158:1305);
</script>
</body>
</html>
